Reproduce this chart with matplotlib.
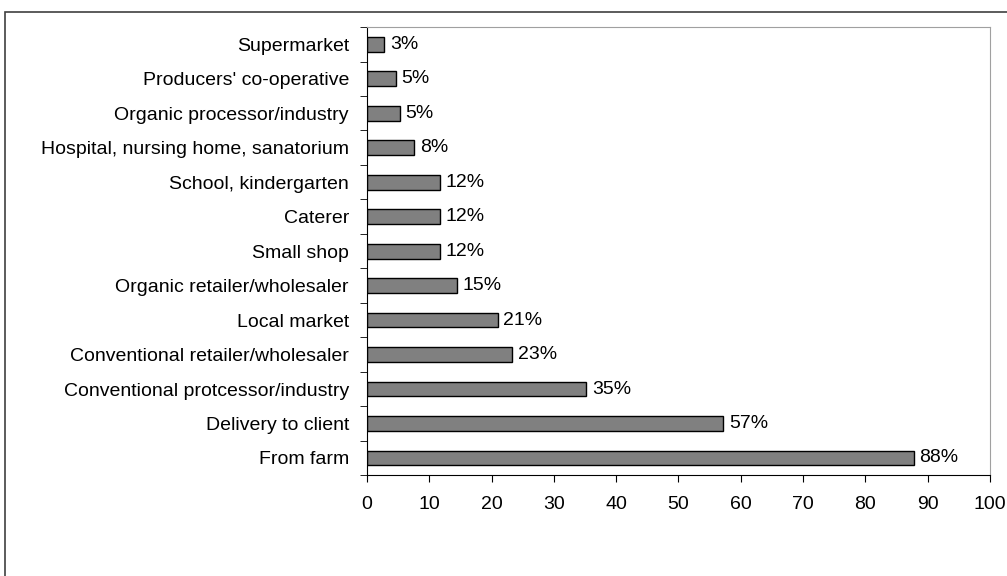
import numpy as np
import matplotlib.pyplot as plt
from matplotlib.patches import Rectangle

plt.rcParams['font.family'] = ['Liberation Sans', 'DejaVu Sans']

categories = ["From farm", "Delivery to client", "Conventional protcessor/industry",
              "Conventional retailer/wholesaler", "Local market",
              "Organic retailer/wholesaler", "Small shop", "Caterer",
              "School, kindergarten", "Hospital, nursing home, sanatorium",
              "Organic processor/industry", "Producers' co-operative", "Supermarket"]
values = [87.8, 57.2, 35.2, 23.3, 21.0, 14.5, 11.7, 11.7, 11.7, 7.6, 5.3, 4.6, 2.8]
labels = ["88%", "57%", "35%", "23%", "21%", "15%", "12%", "12%", "12%",
          "8%", "5%", "5%", "3%"]

fig = plt.figure(figsize=(10.07, 5.76), dpi=100)
ax = fig.add_axes([0.3645, 0.175, 0.6185, 0.778])

# outer chart frame
fig.patches.append(Rectangle((0.005, -0.1), 1.2, 1.079, transform=fig.transFigure,
                             fill=False, edgecolor="#404040", linewidth=1.2))

y = np.arange(len(categories))
ax.barh(y, values, height=0.43, color="#808080", edgecolor="black", linewidth=1)
for yi, v, lab in zip(y, values, labels):
    ax.text(v + 0.9, yi, lab, va="center", ha="left", fontsize=14)

ax.set_xlim(0, 100)
ax.set_ylim(-0.5, len(categories) - 0.5)
ax.set_xticks(np.arange(0, 101, 10))
ax.tick_params(axis="x", direction="out", length=5, labelsize=14, pad=10)
ax.set_yticks(y)
ax.set_yticklabels(categories, fontsize=14)
ax.tick_params(axis="y", which="major", length=0, pad=13)
ax.set_yticks(np.arange(-0.5, len(categories), 1), minor=True)
ax.tick_params(axis="y", which="minor", direction="out", length=5)

ax.spines["top"].set_color("#a0a0a0")
ax.spines["right"].set_color("#a0a0a0")

plt.savefig("out.png")
